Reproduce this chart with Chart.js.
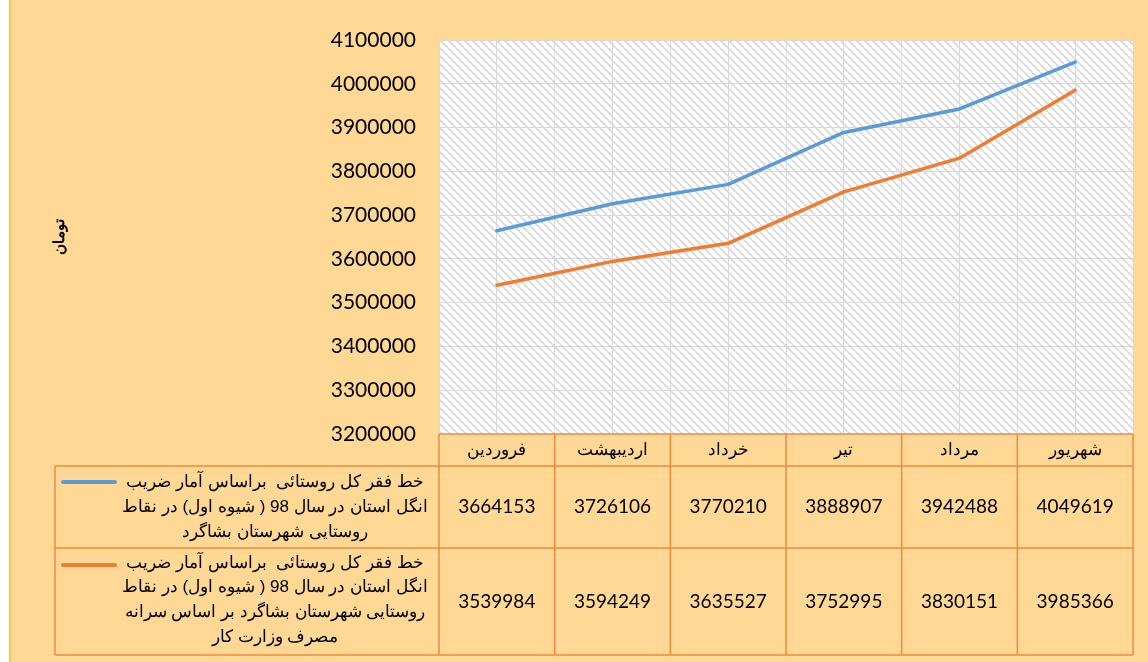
<!DOCTYPE html>
<html><head><meta charset="utf-8">
<script src="https://cdn.jsdelivr.net/npm/chart.js@4.4.1/dist/chart.umd.min.js"></script>
<style>html,body{margin:0;padding:0;background:#fff;overflow:hidden}#wrap{width:1148px;height:662px;position:relative}</style>
</head><body><div id="wrap"><canvas id="c" width="1148" height="662"></canvas></div>
<script>
const categories = ['فروردین','اردیبهشت','خرداد','تیر','مرداد','شهریور'];
const seriesA = [3664153, 3726106, 3770210, 3888907, 3942488, 4049619];
const seriesB = [3539984, 3594249, 3635527, 3752995, 3830151, 3985366];
const seriesALabel = ['خط فقر کل روستائی  براساس آمار ضریب','انگل استان در سال 98 ( شیوه اول) در نقاط','روستایی شهرستان بشاگرد'];
const seriesBLabel = ['خط فقر کل روستائی  براساس آمار ضریب','انگل استان در سال 98 ( شیوه اول) در نقاط','روستایی شهرستان بشاگرد بر اساس سرانه','مصرف وزارت کار'];
const yTickValues = [3200000,3300000,3400000,3500000,3600000,3700000,3800000,3900000,4000000,4100000];
const yTitle = 'تومان';

const BG = '#FED894';
const TABLE_LINE = '#F08A3C';
const BLUE = '#5B9BD5';
const ORANGE = '#ED7D31';

function makePattern(){
  const p = document.createElement('canvas');
  p.width = 8; p.height = 8;
  const g = p.getContext('2d');
  g.fillStyle = '#ffffff'; g.fillRect(0,0,8,8);
  g.strokeStyle = '#DDDDDD'; g.lineWidth = 2.2;
  for (const o of [-8,0,8]) { g.beginPath(); g.moveTo(o,0); g.lineTo(o+8,8); g.stroke(); }
  return p;
}
const patternCanvas = makePattern();

const bgPlugin = {
  id:'bg',
  beforeDraw(chart){
    const {ctx, chartArea:a, width, height} = chart;
    ctx.save();
    ctx.fillStyle = '#fff'; ctx.fillRect(0,0,width,height);
    ctx.fillStyle = BG; ctx.fillRect(9,0,width-9,height);
    ctx.fillStyle = '#FFC000'; ctx.fillRect(9,0,1.5,height);
    ctx.fillStyle = ctx.createPattern(patternCanvas,'repeat');
    ctx.fillRect(a.left,a.top,a.right-a.left,a.bottom-a.top);
    ctx.restore();
  }
};

const tablePlugin = {
  id:'datatable',
  afterDraw(chart){
    const {ctx, chartArea:a, scales:{x}} = chart;
    const hTop = a.bottom, hBot = 466, r1 = 548, r2 = 655, legL = 55;
    const bounds = [];
    for (let i=0;i<=categories.length;i++) bounds.push(x.getPixelForValue(i-0.5));
    ctx.save();
    ctx.strokeStyle = TABLE_LINE; ctx.lineWidth = 1.5;
    ctx.beginPath();
    ctx.moveTo(bounds[0],hTop); ctx.lineTo(bounds[bounds.length-1],hTop);
    ctx.moveTo(legL,hBot); ctx.lineTo(bounds[bounds.length-1],hBot);
    ctx.moveTo(legL,r1); ctx.lineTo(bounds[bounds.length-1],r1);
    ctx.moveTo(legL,r2); ctx.lineTo(bounds[bounds.length-1],r2);
    ctx.moveTo(legL,hBot); ctx.lineTo(legL,r2);
    bounds.forEach(b=>{ctx.moveTo(b,hTop);ctx.lineTo(b,r2);});
    ctx.stroke();
    // header
    ctx.fillStyle = '#000';
    ctx.textBaseline = 'middle'; ctx.textAlign = 'center';
    ctx.direction = 'rtl';
    ctx.font = '16.5px "Liberation Sans", Arial, sans-serif';
    categories.forEach((c,i)=>{ ctx.fillText(c, x.getPixelForValue(i), (hTop+hBot)/2); });
    // values
    ctx.direction = 'ltr';
    ctx.font = '19px Lato, "Open Sans", sans-serif';
    seriesA.forEach((v,i)=>ctx.fillText(String(v), x.getPixelForValue(i), (hBot+r1)/2));
    seriesB.forEach((v,i)=>ctx.fillText(String(v), x.getPixelForValue(i), (r1+r2)/2));
    // legend text
    ctx.direction = 'rtl';
    ctx.font = '17px "Liberation Sans", Arial, sans-serif';
    const cx = 275;
    seriesALabel.forEach((t,k)=>ctx.fillText(t, cx, 482 + k*25));
    seriesBLabel.forEach((t,k)=>ctx.fillText(t, cx, 563 + k*24.7));
    // legend keys
    ctx.lineCap = 'round'; ctx.lineWidth = 4;
    ctx.strokeStyle = BLUE; ctx.beginPath(); ctx.moveTo(63,482); ctx.lineTo(115,482); ctx.stroke();
    ctx.strokeStyle = ORANGE; ctx.beginPath(); ctx.moveTo(63,565); ctx.lineTo(115,565); ctx.stroke();
    ctx.restore();
  }
};

const toPoints = arr => arr.map((v,i)=>({x:i,y:v}));

new Chart(document.getElementById('c'), {
  type:'line',
  data:{
    datasets:[
      {label: seriesALabel.join(' '), data: toPoints(seriesA), borderColor: BLUE, borderWidth:3.5, pointRadius:0, tension:0, borderCapStyle:'round', borderJoinStyle:'round'},
      {label: seriesBLabel.join(' '), data: toPoints(seriesB), borderColor: ORANGE, borderWidth:3.5, pointRadius:0, tension:0, borderCapStyle:'round', borderJoinStyle:'round'}
    ]
  },
  options:{
    responsive:false, animation:false,
    layout:{padding:{top:40,right:15,bottom:0,left:0}},
    plugins:{legend:{display:false}, tooltip:{enabled:false}, title:{display:false}},
    scales:{
      x:{type:'linear', position:'bottom', min:-0.5, max:categories.length-0.5,
         ticks:{display:false, stepSize:0.5},
         grid:{color:'#D9D9D9', lineWidth:1, drawTicks:false},
         border:{display:true, color:'#D9D9D9'},
         afterFit(s){ s.height = 228; }},
      y:{min:yTickValues[0], max:yTickValues[yTickValues.length-1],
         afterBuildTicks(s){ s.ticks = yTickValues.map(v=>({value:v})); },
         ticks:{padding:23, color:'#000', font:{family:'Lato, "Open Sans", sans-serif', size:21}, callback:v=>String(v)},
         grid:{color:'#D9D9D9', lineWidth:1, drawTicks:false},
         border:{display:true, color:'#D9D9D9'},
         title:{display:true, text:yTitle, color:'#000', font:{family:'"Liberation Sans", Arial, sans-serif', size:15, weight:'bold'}, padding:{top:51,bottom:0}},
         afterFit(s){ s.width = 439; }}
    }
  },
  plugins:[bgPlugin, tablePlugin]
});
</script></body></html>
